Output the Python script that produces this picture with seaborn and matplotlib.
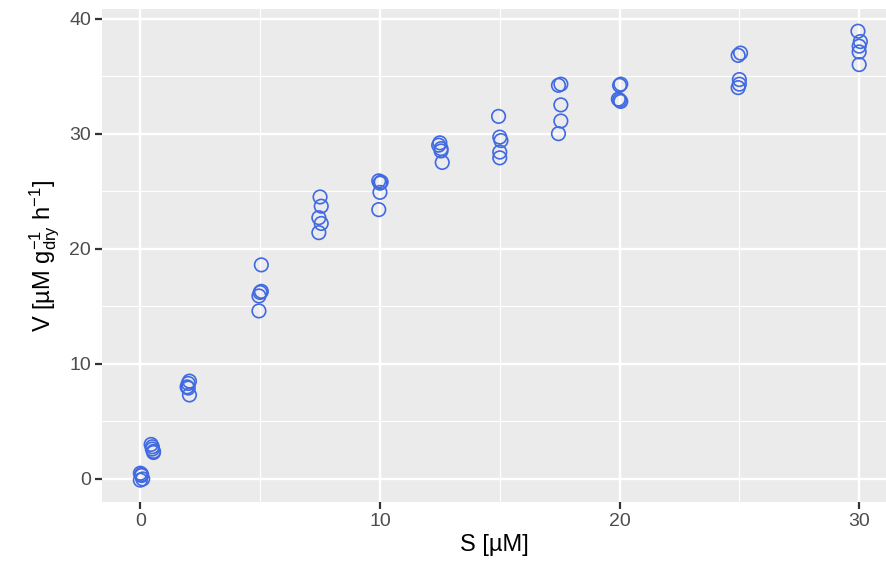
import pandas as pd
import matplotlib
matplotlib.use("Agg")
import matplotlib.pyplot as plt
import seaborn as sns

# -------------------------------
# Data
# -------------------------------
substrate = [0.0, 0.05, 0.1, 0.0, 0.05,
             0.45, 0.5, 0.5, 0.55, 0.55,
             2.05, 2.0, 1.95, 2.0, 2.05,
             5.05, 5.05, 5.0, 4.95, 4.95,
             7.5, 7.55, 7.45, 7.55, 7.45,
             9.95, 10.05, 10.0, 10.0, 9.95,
             12.5, 12.45, 12.55, 12.55, 12.6,
             14.95, 15.0, 15.05, 15.0, 15.0,
             17.55, 17.45, 17.55, 17.55, 17.45,
             20.05, 20.0, 19.95, 20.0, 20.05,
             25.05, 24.95, 25.0, 25.0, 24.95,
             29.95, 30.05, 30.0, 30.0, 30.0]
velocity = [0.5, 0.3, 0.0, -0.1, 0.4,
            3.0, 2.8, 2.6, 2.4, 2.3,
            8.5, 8.3, 8.0, 7.9, 7.3,
            18.6, 16.3, 16.2, 15.9, 14.6,
            24.5, 23.7, 22.7, 22.2, 21.4,
            25.9, 25.8, 25.7, 24.9, 23.4,
            29.2, 29.0, 28.7, 28.5, 27.5,
            31.5, 29.7, 29.4, 28.4, 27.9,
            34.3, 34.2, 32.5, 31.1, 30.0,
            34.3, 34.2, 33.0, 32.9, 32.8,
            37.0, 36.8, 34.7, 34.3, 34.0,
            38.9, 38.0, 37.6, 37.1, 36.0]
x_ticks = [0, 10, 20, 30]
y_ticks = [0, 10, 20, 30, 40]

df = pd.DataFrame({"S": substrate, "V": velocity})

# -------------------------------
# Style (ggplot-like grey panel)
# -------------------------------
sns.set_style("darkgrid", {"axes.facecolor": "#EBEBEB", "grid.color": "white",
                           "xtick.bottom": True, "ytick.left": True})
plt.rcParams["font.family"] = ["Liberation Sans", "DejaVu Sans"]
plt.rcParams["mathtext.fontset"] = "custom"
plt.rcParams["mathtext.rm"] = "Liberation Sans"
plt.rcParams["mathtext.it"] = "Liberation Sans"

fig = plt.figure(figsize=(8.86, 5.72), dpi=100)
ax = fig.add_axes([102 / 886, 70 / 572, 784 / 886, 493 / 572])

sns.scatterplot(data=df, x="S", y="V", ax=ax, marker="o", s=95,
                facecolors="none", edgecolor="#4169E1", linewidth=1.2,
                zorder=3)

ax.set_xlim(-1.6, 31.12)
ax.set_ylim(-2.0, 40.83)
ax.set_xticks(x_ticks)
ax.set_yticks(y_ticks)
ax.set_xticks([5, 15, 25], minor=True)
ax.set_yticks([5, 15, 25, 35], minor=True)
ax.grid(which="major", color="white", linewidth=1.7)
ax.grid(which="minor", color="white", linewidth=0.85)
ax.set_axisbelow(True)
for s in ax.spines.values():
    s.set_visible(False)

ax.tick_params(axis="both", which="major", bottom=True, left=True,
               direction="out", length=5, width=1.6, color="#333333",
               labelsize=14, labelcolor="#4D4D4D", pad=3)
ax.tick_params(axis="both", which="minor", length=0)

ax.set_xlabel(r"S [µM]", fontsize=17, color="black", labelpad=3)
ax.set_ylabel(r"V [µM $\mathregular{g_{dry}^{-1}}$ $\mathregular{h^{-1}}$]",
              fontsize=17, color="black", labelpad=5)

fig.savefig("out.png", dpi=100)
plt.close(fig)
